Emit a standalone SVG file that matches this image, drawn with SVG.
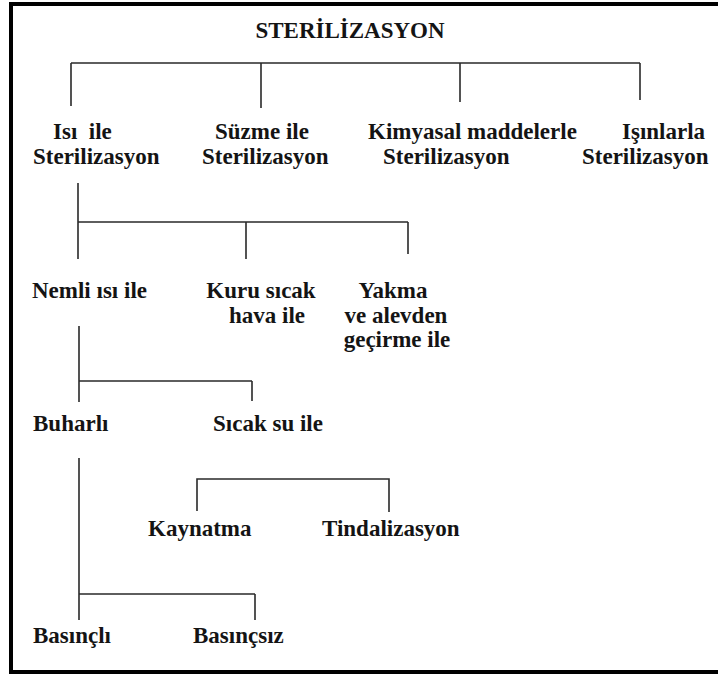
<svg xmlns="http://www.w3.org/2000/svg" width="718" height="674" viewBox="0 0 718 674">
<style>
.t{font-family:'Liberation Serif','Times New Roman',Times,serif;font-weight:700;font-size:23px;fill:#141414;white-space:pre}
.c{stroke:#2a2a2a;stroke-width:1.6;fill:none}
.f{fill:#000}
</style>
<rect width="718" height="674" fill="#fff"/>
<g id="frame">
<rect class="f" x="9" y="2" width="709" height="4"/>
<rect class="f" x="9" y="2" width="4" height="672"/>
<rect class="f" x="9" y="670" width="709" height="4"/>
</g>
<g id="connectors">
<path class="c" d="M71 63H640M71 63V106M261 63V108M460 63V102M640 63V100"/>
<path class="c" d="M78 183V259M78 222H408M246 222V259M408 222V254"/>
<path class="c" d="M79 326V402M79 381H252M252 381V401"/>
<path class="c" d="M79 458V620M79 594H255M255 594V620"/>
<path class="c" d="M197 511V479H389V512"/>
</g>
<g font-family="Liberation Serif, serif" font-weight="bold">
<g id="root"><text class="t" x="350" y="38" text-anchor="middle">STERİLİZASYON</text></g>
<g id="isi"><text class="t" x="53" y="139">Isı  ile</text><text class="t" x="33" y="164">Sterilizasyon</text></g>
<g id="suzme"><text class="t" x="215" y="139">Süzme ile</text><text class="t" x="202" y="164">Sterilizasyon</text></g>
<g id="kimyasal"><text class="t" x="368" y="139">Kimyasal maddelerle</text><text class="t" x="383" y="164">Sterilizasyon</text></g>
<g id="isinlarla"><text class="t" x="622" y="139">Işınlarla</text><text class="t" x="582" y="164">Sterilizasyon</text></g>
<g id="nemli"><text class="t" x="32" y="298">Nemli ısı ile</text></g>
<g id="kuru"><text class="t" x="261" y="298" text-anchor="middle">Kuru sıcak</text><text class="t" x="267" y="323" text-anchor="middle">hava ile</text></g>
<g id="yakma"><text class="t" x="393" y="298" text-anchor="middle">Yakma</text><text class="t" x="396" y="323" text-anchor="middle">ve alevden</text><text class="t" x="397" y="347" text-anchor="middle">geçirme ile</text></g>
<g id="buharli"><text class="t" x="33" y="431">Buharlı</text></g>
<g id="sicaksu"><text class="t" x="213" y="431">Sıcak su ile</text></g>
<g id="kaynatma"><text class="t" x="148" y="536">Kaynatma</text></g>
<g id="tindalizasyon"><text class="t" x="322" y="536">Tindalizasyon</text></g>
<g id="basincli"><text class="t" x="33" y="643">Basınçlı</text></g>
<g id="basincsiz"><text class="t" x="193" y="643">Basınçsız</text></g>
</g>
</svg>
